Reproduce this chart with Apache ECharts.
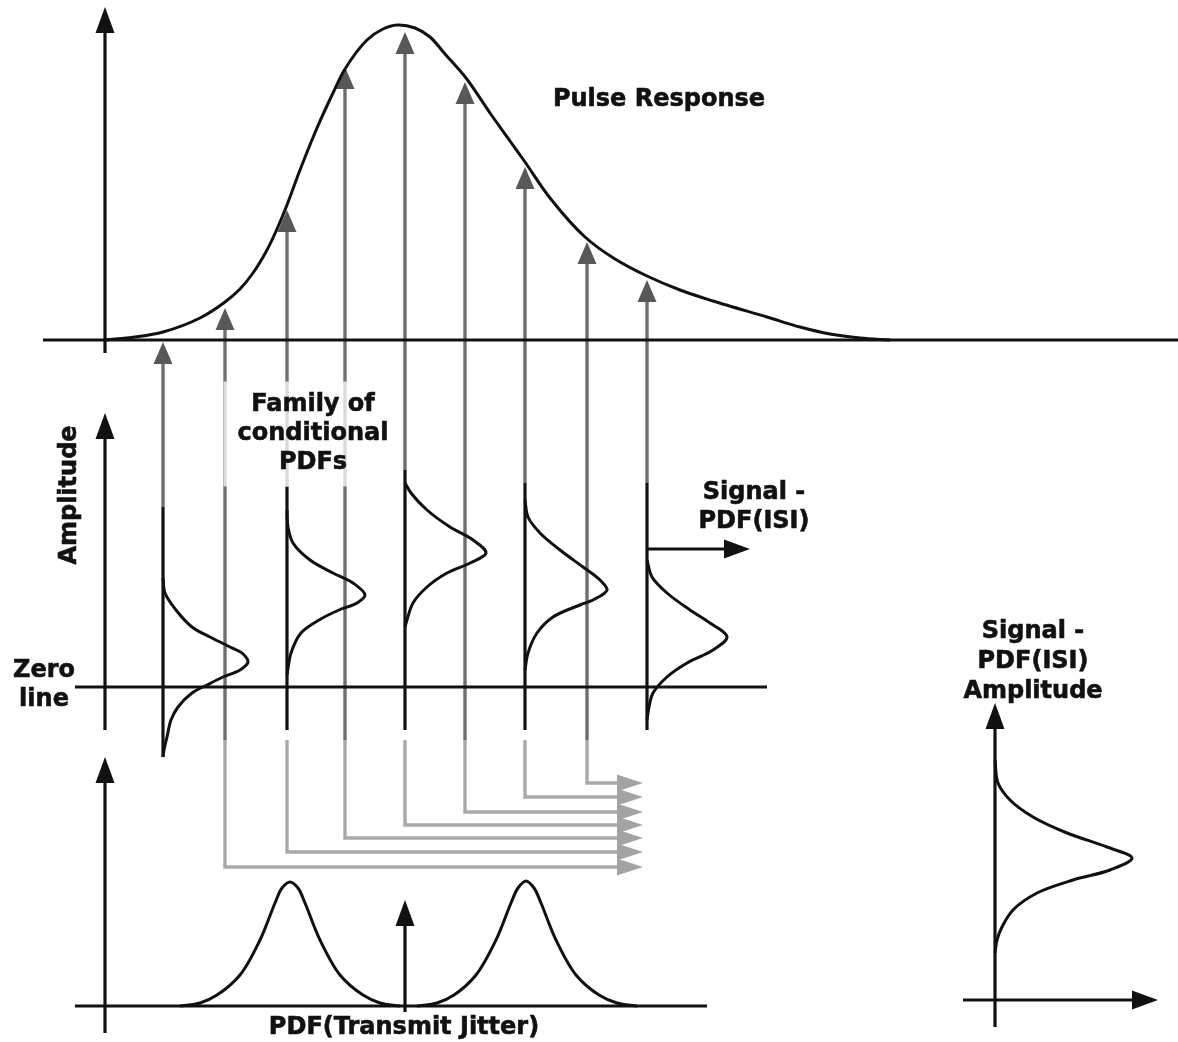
<!DOCTYPE html>
<html><head><meta charset="utf-8">
<script src="https://cdn.jsdelivr.net/npm/echarts@6/dist/echarts.min.js"></script>
<style>html,body{margin:0;padding:0;background:#fff}#c{width:1178px;height:1042px}</style>
</head><body><div id="c"></div>
<script>
// ---------- values (x to the right, y downward) ----------
const pulseX = [105,135,163,200,225,240,253,267,277,287,300,317,333,345,367,383,397,415,430,445,466,490,510,525,550,585,615,647,680,713,767,800,830,860,890];
const pulseY = [340,337,332,318,302,289,273,250,229,205,170,128,93,69,40,29,25,28,37,54,78,113,141,162,198,237,259,276,290,301,317,327,334,338,340];

const sampleX     = [163,225,287,345,405,465,525,587,647];
const sampleTip   = [342,308,210,67,32,82,167,242,280];
const sampleTurnY = [null,867,852,838,825,812,797,783,null];
const turnArrowEndX = 643;
const fadeStartY = 740;

// conditional PDFs: which sample they sit on, the extent of their axis, and [y, density] pairs
const condPdfSample = [0,2,4,6,8];
const condPdfTop    = [507,487,470,483,483];
const condPdfBottom = [757,730,730,730,730];
const condPdf1 = [[578,0],[593,2],[610,13],[627,29],[637,47],[647,67],[653,79],[662,85],[670,77],[677,60],[685,44],[693,29],[707,15],[720,8],[737,4],[750,1],[757,0]];
const condPdf2 = [[510,0],[527,1],[543,6],[560,23],[573,46],[583,66],[595,78],[603,70],[610,52],[620,32],[633,14],[653,4],[675,0]];
const condPdf3 = [[483,0],[493,6],[510,22],[527,45],[540,68],[553,81],[563,65],[573,42],[587,22],[603,8],[620,2],[627,0]];
const condPdf4 = [[500,0],[517,3],[533,15],[550,35],[567,58],[580,75],[590,82],[600,68],[605,55],[617,28],[633,12],[653,3],[670,0]];
const condPdf5 = [[560,0],[577,5],[593,20],[610,43],[623,63],[637,80],[650,66],[663,40],[677,20],[693,6],[707,2],[720,0]];
const condPdfs = [condPdf1, condPdf2, condPdf3, condPdf4, condPdf5];

// resulting signal PDF (right panel), axis at x = isiAxisX
const isiAxisX = 995;
const isiPdf = [[760,0],[783,3],[800,15],[817,38],[833,72],[847,112],[858,137],[870,115],[880,78],[893,42],[910,18],[927,7],[940,2],[953,0]];

// transmit jitter PDF (bottom panel), [x, y]
const jitterLeft  = [[180,1006],[200,1003],[217,995],[240,975],[260,940],[275,903],[282,888],[290,882],[298,888],[305,903],[320,940],[340,975],[363,995],[380,1003],[400,1006]];
const jitterRight = [[417,1006],[437,1003],[454,995],[476,975],[496,940],[511,903],[518,888],[526,881],[534,888],[541,903],[556,940],[576,975],[599,995],[617,1003],[637,1006]];

// axes: arrows [x1,y1,x2,y2] (head at the second point) and plain lines
const axisArrows = [[105,353,105,7],[105,730,105,413],[105,1033,105,757],[405,1012,405,900],[647,549,750,549],[995,1027,995,703],[963,1000,1158,1000]];
const axisLines  = [[43,340,1178,340],[75,687,767,687],[75,1006,707,1006]];

// texts and their anchor points
const labelText = ['Pulse Response','Family of\nconditional\nPDFs','Amplitude','Zero\nline','Signal -\nPDF(ISI)','Signal -\nPDF(ISI)\nAmplitude','PDF(Transmit Jitter)'];
const labelX    = [659,313,70,44,754,1033,404];
const labelY    = [100,434,495,685,507,662,1028];

// ---------- styles ----------
const BLACK = '#111111';
const ST_AXIS   = {color:BLACK, width:3.2, head:[26,9.5], headColor:BLACK};
const ST_LINE   = {color:BLACK, width:3.2, head:null};
const ST_SAMPLE = {color:'#6e6e6e', width:3.4, head:[22,9.5], headColor:'#585858'};
const ST_LIGHT  = {color:'#a9a9a9', width:3.4, head:[26,8.5], headColor:'#a3a3a3'};

// ---------- build shapes ----------
const grayShapes = [], blackShapes = [];
sampleX.forEach((x, i) => {
  const k = condPdfSample.indexOf(i);
  const darkFrom = k >= 0 ? condPdfTop[k] : fadeStartY;
  grayShapes.push(Object.assign({pts:[[x,darkFrom],[x,sampleTip[i]]]}, ST_SAMPLE));
  if (sampleTurnY[i] != null) {
    grayShapes.push(Object.assign({pts:[[x,fadeStartY],[x,sampleTurnY[i]],[turnArrowEndX,sampleTurnY[i]]]}, ST_LIGHT));
  }
  if (k >= 0) blackShapes.push(Object.assign({pts:[[x,condPdfTop[k]],[x,condPdfBottom[k]]]}, ST_LINE));
});
axisLines.forEach(a => blackShapes.push(Object.assign({pts:[[a[0],a[1]],[a[2],a[3]]]}, ST_LINE)));
axisArrows.forEach(a => blackShapes.push(Object.assign({pts:[[a[0],a[1]],[a[2],a[3]]]}, ST_AXIS)));

function shapeSeries(list, z) {
  return {
    type:'custom', z, silent:true, clip:false,
    data: list.map(s => s.pts[0]),
    renderItem(params, api) {
      const s = list[params.dataIndex];
      const pts = s.pts.map(p => api.coord(p));
      const children = [];
      const linePts = pts.slice();
      if (s.head) {
        const n = pts.length, a = pts[n-2], b = pts[n-1];
        const dx = b[0]-a[0], dy = b[1]-a[1], L = Math.hypot(dx,dy), ux = dx/L, uy = dy/L;
        const hl = s.head[0], hw = s.head[1];
        const bx = b[0]-ux*hl, by = b[1]-uy*hl;
        linePts[n-1] = [bx+ux*2, by+uy*2];
        children.push({type:'polyline', shape:{points:linePts}, style:{stroke:s.color, lineWidth:s.width, fill:'none', lineJoin:'miter'}});
        children.push({type:'polygon', shape:{points:[b,[bx-uy*hw,by+ux*hw],[bx+uy*hw,by-ux*hw]]}, style:{fill:s.headColor, stroke:'none'}});
      } else {
        children.push({type:'polyline', shape:{points:linePts}, style:{stroke:s.color, lineWidth:s.width, fill:'none', lineJoin:'miter'}});
      }
      return {type:'group', children};
    }
  };
}

// centripetal Catmull-Rom through pixel points -> SVG path
function splinePath(p) {
  const n = p.length;
  const get = i => {
    if (i < 0) return [2*p[0][0]-p[1][0], 2*p[0][1]-p[1][1]];
    if (i >= n) return [2*p[n-1][0]-p[n-2][0], 2*p[n-1][1]-p[n-2][1]];
    return p[i];
  };
  const dist = (a,b) => Math.max(1e-6, Math.sqrt(Math.hypot(b[0]-a[0], b[1]-a[1])));
  let d = 'M' + p[0][0].toFixed(2) + ' ' + p[0][1].toFixed(2);
  for (let i = 0; i < n-1; i++) {
    const P0 = get(i-1), P1 = p[i], P2 = p[i+1], P3 = get(i+2);
    const d1 = dist(P0,P1), d2 = dist(P1,P2), d3 = dist(P2,P3);
    const c1 = [0,1].map(j => (d1*d1*P2[j] - d2*d2*P0[j] + (2*d1*d1 + 3*d1*d2 + d2*d2)*P1[j]) / (3*d1*(d1+d2)));
    const c2 = [0,1].map(j => (d3*d3*P1[j] - d2*d2*P3[j] + (2*d3*d3 + 3*d3*d2 + d2*d2)*P2[j]) / (3*d3*(d3+d2)));
    d += ' C' + c1[0].toFixed(2) + ' ' + c1[1].toFixed(2) + ' ' + c2[0].toFixed(2) + ' ' + c2[1].toFixed(2) + ' ' + P2[0].toFixed(2) + ' ' + P2[1].toFixed(2);
  }
  return d;
}

function curve(points, z) {
  return {
    type:'custom', z, silent:true, clip:false,
    data:[points[0]],
    renderItem(params, api) {
      const px = points.map(pt => api.coord(pt));
      return {type:'path', shape:{pathData: splinePath(px)}, style:{stroke:BLACK, lineWidth:3, fill:'none', lineJoin:'round'}};
    }
  };
}

const series = [];
series.push(shapeSeries(grayShapes, 2));
series.push(shapeSeries(blackShapes, 4));
series.push(curve(pulseX.map((x,i) => [x, pulseY[i]]), 5));
condPdfs.forEach((pdf, k) => {
  const x0 = sampleX[condPdfSample[k]];
  series.push(curve(pdf.map(p => [x0 + p[1], p[0]]), 5));
});
series.push(curve(isiPdf.map(p => [isiAxisX + p[1], p[0]]), 5));
series.push(curve(jitterLeft, 5));
series.push(curve(jitterRight, 5));

const textStyle = {fontFamily:'DejaVu Sans', fontWeight:'bold', fontSize:24, color:BLACK, lineHeight:29,
                   opacity:1, textBorderColor:BLACK, textBorderWidth:0.6};
series.push({
  type:'scatter', z:10, silent:true, symbolSize:0, itemStyle:{opacity:1},
  data: labelText.map((t, i) => {
    const item = {value:[labelX[i], labelY[i]], label:{formatter:t}};
    if (t === 'Amplitude') item.label.rotate = 90;
    if (t.indexOf('Family') === 0) {
      item.label.backgroundColor = 'rgba(255,255,255,0.75)';
      item.label.padding = [9, 14, 9, 14];
    }
    if (t.indexOf('Amplitude') > 0) item.label.lineHeight = 30;
    return item;
  }),
  label: Object.assign({show:true, position:'inside', align:'center', verticalAlign:'middle'}, textStyle)
});

const chart = echarts.init(document.getElementById('c'), null, {renderer:'canvas'});
chart.setOption({
  animation:false,
  backgroundColor:'#ffffff',
  grid:{left:0, right:0, top:0, bottom:0},
  xAxis:{type:'value', min:0, max:1178, show:false},
  yAxis:{type:'value', min:0, max:1042, inverse:true, show:false},
  series
});
</script>
</body></html>
